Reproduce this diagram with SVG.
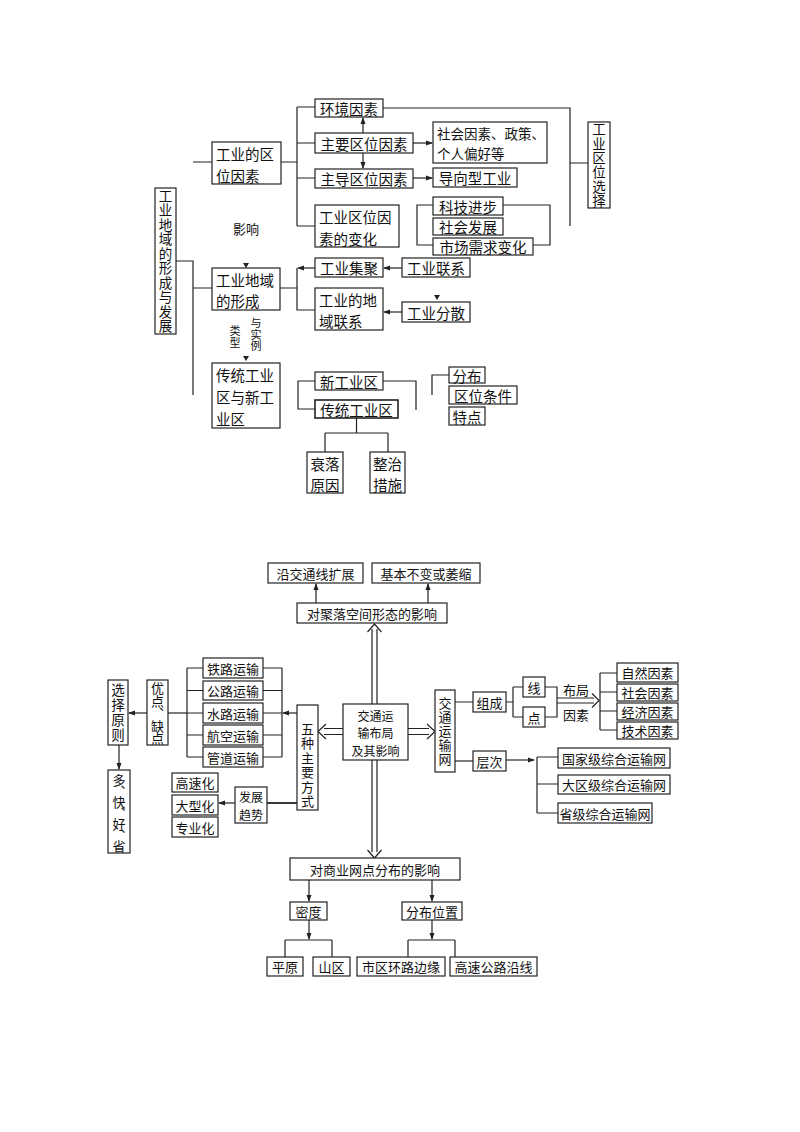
<svg xmlns="http://www.w3.org/2000/svg" width="800" height="1132" viewBox="0 0 800 1132">
<style>
.b{fill:#fff;stroke:#222;stroke-width:1.2}
.t{font-family:"Noto Sans CJK SC","Noto Sans CJK JP",sans-serif;font-size:14.5px;fill:#111;dominant-baseline:central}
.m{text-anchor:middle}
.s{font-size:13px}
.xs{font-size:11px}
.v{writing-mode:vertical-rl;text-anchor:middle}
.l{fill:none;stroke:#222;stroke-width:1.2}
.a{fill:none;stroke:#222;stroke-width:1.2;marker-end:url(#ah)}
.h{fill:#222}
</style>
<defs>
<marker id="ah" markerWidth="7" markerHeight="6" refX="6" refY="3" orient="auto" markerUnits="userSpaceOnUse"><path d="M0,0.5 L7,3 L0,5.5 z" fill="#222"/></marker>
</defs>
<rect width="800" height="1132" fill="#fff"/>

<g id="connectors">
<!-- top diagram -->
<path class="l" d="M176,261 H193 V395 M193,288 H212 M193,162 H212"/>
<path class="l" d="M281,162 H297 M297,107 V226 M297,107 H315 M297,143 H315 M297,178 H315 M297,226 H315"/>
<path class="a" d="M363,133 V118"/>
<path class="a" d="M363,153 V168"/>
<path class="a" d="M413,143 H432"/>
<path class="a" d="M413,178 H432"/>
<path class="l" d="M383,108 H570 V226 M570,163 H588"/>
<path class="l" d="M433,205 H417 V245 H433"/>
<path class="l" d="M503,205 H550 V245 H533"/>
<path class="a" d="M402,268 H384"/>
<path class="a" d="M315,268 H298"/>
<path class="l" d="M297,268 V310 H315 M280,288 H297"/>
<path class="a" d="M402,312 H384"/>
<path class="l" d="M315,381 H298 V409 H315"/>
<path class="l" d="M383,381 H416 V410"/>
<path class="l" d="M449,375 H432 V395"/>
<path class="l" d="M356.5,418 V433 M325,433 H388 M325,433 V452 M388,433 V452"/>
<polygon class="h" points="243,263 249,263 246,268"/>
<polygon class="h" points="243,356 249,356 246,361"/>
<polygon class="h" points="434,295 440,295 437,300"/>

<!-- bottom diagram -->
<path class="a" d="M316,603 V584"/>
<path class="a" d="M428,603 V584"/>
<path class="l" d="M372,704 V629 M377,704 V629 M367.5,632 L374.5,624 L381.5,632"/>
<path class="l" d="M343,728.5 H324 M343,734.5 H324 M326,724 L318,731.5 L326,739"/>
<path class="l" d="M408,728.5 H429 M408,734.5 H429 M427,724 L435,731.5 L427,739"/>
<path class="l" d="M372,760 V852 M377,760 V852 M367.5,850 L374.5,858 L381.5,850"/>
<path class="a" d="M297,713 H283"/>
<path class="l" d="M282,668 V757 M263,668 H282 M263,690.5 H282 M263,713 H282 M263,735 H282 M263,757 H282"/>
<path class="l" d="M187,668 V757 M187,668 H203 M187,690.5 H203 M187,713 H203 M187,735 H203 M187,757 H203"/>
<path class="l" d="M187,713 H168"/>
<path class="a" d="M147,713 H129"/>
<path class="a" d="M119,745 V769"/>
<path class="l" d="M297,803 H267" style="stroke-width:1.8"/>
<path class="a" d="M235,803 H219"/>
<path class="l" d="M455,702 H473 M506,702 H513 M513,687 V717 M513,687 H523 M513,717 H523"/>
<path class="l" d="M545,687 H557 V717 H545"/>
<path class="l" d="M557,698 H594 M557,703 H594 M592,693.5 L599,700.5 L592,707.5"/>
<path class="l" d="M600,673 V730 M600,673 H617 M600,692 H617 M600,711 H617 M600,730 H617"/>
<path class="l" d="M455,761 H473"/>
<path class="a" d="M506,760 H534"/>
<path class="l" d="M537,757 V813 M537,757 H558 M537,784 H558 M537,813 H558"/>
<path class="a" d="M309,880 V901"/>
<path class="a" d="M432,880 V901"/>
<path class="a" d="M309,920 V939"/>
<path class="l" d="M285,940 H332 M285,940 V957 M332,940 V957"/>
<path class="a" d="M432,920 V939"/>
<path class="l" d="M408,940 H455 M408,940 V957 M455,940 V957"/>
</g>

<!-- ===== top diagram nodes ===== -->
<g id="n-fazhan">
<rect class="b" x="155" y="188" width="21" height="146"/>
<text class="t v" style="font-size:13.5px;letter-spacing:1px" x="165.5" y="261.5">工业地域的形成与发展</text>
</g>
<g id="n-quwei">
<rect class="b" x="212" y="142" width="69" height="42"/>
<text class="t"><tspan x="216" y="153">工业的区</tspan><tspan x="216" y="174.5">位因素</tspan></text>
</g>
<g id="n-huanjing">
<rect class="b" x="315" y="99" width="68" height="18"/>
<text class="t m" x="349" y="108">环境因素</text>
</g>
<g id="n-zhuyao">
<rect class="b" x="315" y="133" width="98" height="20"/>
<text class="t m" x="364" y="143">主要区位因素</text>
</g>
<g id="n-zhudao">
<rect class="b" x="315" y="169" width="98" height="19"/>
<text class="t m" x="364" y="178.5">主导区位因素</text>
</g>
<g id="n-bianhua">
<rect class="b" x="315" y="205" width="84" height="42"/>
<text class="t"><tspan x="319" y="216">工业区位因</tspan><tspan x="319" y="237.5">素的变化</tspan></text>
</g>
<g id="n-shehui">
<rect class="b" x="433" y="122" width="114" height="41"/>
<text class="t" style="font-size:13.5px"><tspan x="437" y="132.5">社会因素、政策、</tspan><tspan x="437" y="153">个人偏好等</tspan></text>
</g>
<g id="n-daoxiang">
<rect class="b" x="433" y="168" width="84" height="19"/>
<text class="t m" x="475" y="177.5">导向型工业</text>
</g>
<g id="n-keji">
<rect class="b" x="433" y="197" width="70" height="18"/>
<text class="t m" x="468" y="206">科技进步</text>
</g>
<g id="n-fazhan2">
<rect class="b" x="433" y="218" width="70" height="17"/>
<text class="t m" x="468" y="226.5">社会发展</text>
</g>
<g id="n-shichang">
<rect class="b" x="433" y="238" width="100" height="17"/>
<text class="t m" x="483" y="246.5">市场需求变化</text>
</g>
<g id="n-xuanze">
<rect class="b" x="588" y="122" width="22" height="86"/>
<text class="t v" style="font-size:13.5px;letter-spacing:0.8px" x="599" y="165.5">工业区位选择</text>
</g>
<g id="lbl-yingxiang"><text class="t m s" x="246" y="228">影响</text></g>
<g id="n-xingcheng">
<rect class="b" x="212" y="268" width="68" height="42"/>
<text class="t"><tspan x="216" y="279">工业地域</tspan><tspan x="216" y="300">的形成</tspan></text>
</g>
<g id="lbl-leixing">
<text class="t v xs" style="letter-spacing:0.5px" x="235" y="337">类型</text>
<text class="t v xs" style="letter-spacing:0.5px" x="256" y="335">与实例</text>
</g>
<g id="n-chuantong-xin">
<rect class="b" x="212" y="363" width="68" height="65"/>
<text class="t"><tspan x="216" y="374">传统工业</tspan><tspan x="216" y="396">区与新工</tspan><tspan x="216" y="418">业区</tspan></text>
</g>
<g id="n-jiju">
<rect class="b" x="315" y="258" width="68" height="19"/>
<text class="t m" x="349" y="267.5">工业集聚</text>
</g>
<g id="n-lianxi">
<rect class="b" x="402" y="258" width="68" height="19"/>
<text class="t m" x="436" y="267.5">工业联系</text>
</g>
<g id="n-diyu">
<rect class="b" x="315" y="288" width="68" height="42"/>
<text class="t"><tspan x="319" y="299">工业的地</tspan><tspan x="319" y="320">域联系</tspan></text>
</g>
<g id="n-fensan">
<rect class="b" x="402" y="302" width="68" height="20"/>
<text class="t m" x="436" y="312">工业分散</text>
</g>
<g id="n-xingongye">
<rect class="b" x="315" y="372" width="68" height="18"/>
<text class="t m" x="349" y="381">新工业区</text>
</g>
<g id="n-chuantong">
<rect class="b" x="315" y="400" width="83" height="18" style="stroke-width:1.6"/>
<text class="t m" x="356.5" y="409">传统工业区</text>
</g>
<g id="n-fenbu">
<rect class="b" x="449" y="367" width="36" height="16"/>
<text class="t m" x="467" y="375">分布</text>
</g>
<g id="n-tiaojian">
<rect class="b" x="449" y="386" width="68" height="18"/>
<text class="t m" x="483" y="395">区位条件</text>
</g>
<g id="n-tedian">
<rect class="b" x="449" y="407" width="36" height="18"/>
<text class="t m" x="467" y="416">特点</text>
</g>
<g id="n-shuailuo">
<rect class="b" x="307" y="452" width="36" height="41"/>
<text class="t m"><tspan x="325" y="463">衰落</tspan><tspan x="325" y="484">原因</tspan></text>
</g>
<g id="n-zhengzhi">
<rect class="b" x="370" y="452" width="35" height="41"/>
<text class="t m"><tspan x="387.5" y="463">整治</tspan><tspan x="387.5" y="484">措施</tspan></text>
</g>

<!-- ===== bottom diagram nodes ===== -->
<g id="b-yanjiao">
<rect class="b" x="268" y="563" width="95" height="20"/>
<text class="t m s" x="315.5" y="573">沿交通线扩展</text>
</g>
<g id="b-jiben">
<rect class="b" x="372" y="563" width="108" height="20"/>
<text class="t m s" x="426" y="573">基本不变或萎缩</text>
</g>
<g id="b-julu">
<rect class="b" x="297" y="603" width="150" height="20"/>
<text class="t m s" x="372" y="613">对聚落空间形态的影响</text>
</g>
<g id="b-center">
<rect class="b" x="343" y="704" width="65" height="56"/>
<text class="t m" style="font-size:12px"><tspan x="375.5" y="714.5">交通运</tspan><tspan x="375.5" y="732">输布局</tspan><tspan x="375.5" y="749.5">及其影响</tspan></text>
</g>
<g id="b-wuzhong">
<rect class="b" x="297" y="705" width="21" height="105"/>
<text class="t v s" style="letter-spacing:1.5px" x="307.5" y="766">五种主要方式</text>
</g>
<g id="b-tielu">
<rect class="b" x="203" y="658" width="60" height="20"/>
<text class="t m s" x="233" y="668">铁路运输</text>
</g>
<g id="b-gonglu">
<rect class="b" x="203" y="681" width="60" height="19"/>
<text class="t m s" x="233" y="690.5">公路运输</text>
</g>
<g id="b-shuilu">
<rect class="b" x="203" y="703" width="60" height="20"/>
<text class="t m s" x="233" y="713">水路运输</text>
</g>
<g id="b-hangkong">
<rect class="b" x="203" y="725" width="60" height="20"/>
<text class="t m s" x="233" y="735">航空运输</text>
</g>
<g id="b-guandao">
<rect class="b" x="203" y="747" width="60" height="20"/>
<text class="t m s" x="233" y="757">管道运输</text>
</g>
<g id="b-youdian">
<rect class="b" x="147" y="680" width="21" height="65"/>
<text class="t v s" style="letter-spacing:-0.5px" x="157.5" y="713">优点、缺点</text>
</g>
<g id="b-yuanze">
<rect class="b" x="108" y="680" width="20" height="65"/>
<text class="t v s" style="font-size:13.5px;letter-spacing:1.5px" x="118" y="713">选择原则</text>
</g>
<g id="b-duokuai">
<rect class="b" x="108" y="770" width="22" height="83"/>
<text class="t v s" style="letter-spacing:-2px" x="119" y="812.5">多、快、好、省</text>
</g>
<g id="b-qushi">
<rect class="b" x="235" y="787" width="32" height="36"/>
<text class="t m" style="font-size:12px"><tspan x="251" y="796.3">发展</tspan><tspan x="251" y="813.8">趋势</tspan></text>
</g>
<g id="b-gaosu">
<rect class="b" x="172" y="773" width="46" height="19"/>
<text class="t m s" x="195" y="782.5">高速化</text>
</g>
<g id="b-daxing">
<rect class="b" x="172" y="795" width="46" height="20"/>
<text class="t m s" x="195" y="805">大型化</text>
</g>
<g id="b-zhuanye">
<rect class="b" x="172" y="817" width="46" height="20"/>
<text class="t m s" x="195" y="827">专业化</text>
</g>
<g id="b-wang">
<rect class="b" x="435" y="690" width="20" height="82"/>
<text class="t v s" style="letter-spacing:1px" x="445" y="731.5">交通运输网</text>
</g>
<g id="b-zucheng">
<rect class="b" x="473" y="692" width="33" height="20"/>
<text class="t m s" x="489.5" y="702">组成</text>
</g>
<g id="b-xian">
<rect class="b" x="523" y="677" width="22" height="20"/>
<text class="t m s" x="534" y="687">线</text>
</g>
<g id="b-dian">
<rect class="b" x="523" y="707" width="22" height="20"/>
<text class="t m s" x="534" y="717">点</text>
</g>
<g id="lbl-buju">
<text class="t m s" x="576" y="689">布局</text>
<text class="t m s" x="576" y="714">因素</text>
</g>
<g id="b-ziran">
<rect class="b" x="617" y="663" width="61" height="19"/>
<text class="t m s" x="647.5" y="672.5">自然因素</text>
</g>
<g id="b-shehui">
<rect class="b" x="617" y="684" width="61" height="17"/>
<text class="t m s" x="647.5" y="692.5">社会因素</text>
</g>
<g id="b-jingji">
<rect class="b" x="617" y="703" width="61" height="17"/>
<text class="t m s" x="647.5" y="711.5">经济因素</text>
</g>
<g id="b-jishu">
<rect class="b" x="617" y="722" width="61" height="17"/>
<text class="t m s" x="647.5" y="730.5">技术因素</text>
</g>
<g id="b-cengci">
<rect class="b" x="473" y="751" width="33" height="20"/>
<text class="t m s" x="489.5" y="761">层次</text>
</g>
<g id="b-guojia">
<rect class="b" x="558" y="748" width="112" height="20"/>
<text class="t m s" x="614" y="758">国家级综合运输网</text>
</g>
<g id="b-daqu">
<rect class="b" x="558" y="775" width="112" height="19"/>
<text class="t m s" x="614" y="784.5">大区级综合运输网</text>
</g>
<g id="b-shengji">
<rect class="b" x="558" y="803" width="94" height="20"/>
<text class="t m s" x="605" y="813">省级综合运输网</text>
</g>
<g id="b-shangye">
<rect class="b" x="290" y="858" width="170" height="22"/>
<text class="t m s" x="375" y="869">对商业网点分布的影响</text>
</g>
<g id="b-midu">
<rect class="b" x="290" y="902" width="37" height="18"/>
<text class="t m s" x="308.5" y="911">密度</text>
</g>
<g id="b-weizhi">
<rect class="b" x="402" y="902" width="60" height="18"/>
<text class="t m s" x="432" y="911">分布位置</text>
</g>
<g id="b-pingyuan">
<rect class="b" x="267" y="957" width="36" height="19"/>
<text class="t m s" x="285" y="966.5">平原</text>
</g>
<g id="b-shanqu">
<rect class="b" x="313" y="957" width="37" height="19"/>
<text class="t m s" x="331.5" y="966.5">山区</text>
</g>
<g id="b-shiqu">
<rect class="b" x="357" y="957" width="88" height="19"/>
<text class="t m s" x="401" y="966.5">市区环路边缘</text>
</g>
<g id="b-gaosugonglu">
<rect class="b" x="450" y="957" width="87" height="19"/>
<text class="t m s" x="493.5" y="966.5">高速公路沿线</text>
</g>
</svg>
